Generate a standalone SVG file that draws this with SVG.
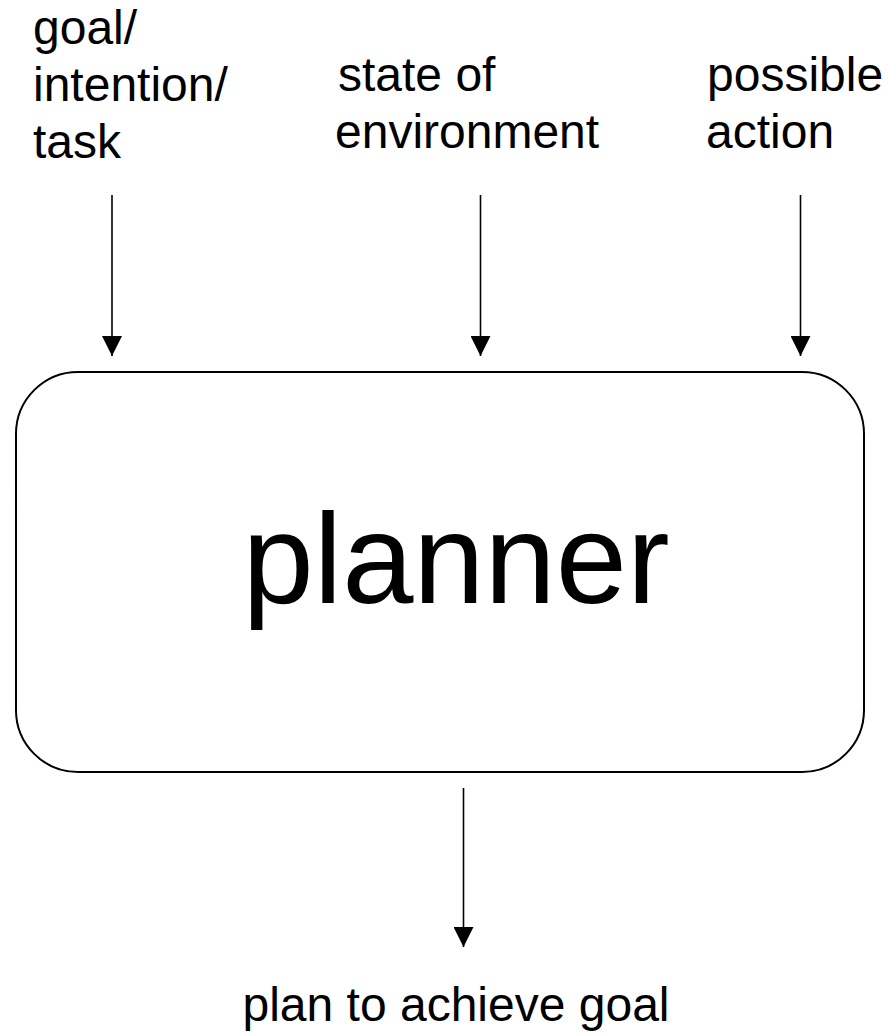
<svg xmlns="http://www.w3.org/2000/svg" width="889" height="1034" viewBox="0 0 889 1034">
<style>
text{font-family:"Liberation Sans",Arial,sans-serif;fill:#000}
.lbl{font-size:48px}
.big{font-size:128px}
.con{stroke:#000;stroke-width:1.6;fill:none}
.box{fill:#fff;stroke:#000;stroke-width:2}
</style>
<defs>
<marker id="ah" viewBox="0 0 20 20" refX="20" refY="10" markerWidth="20" markerHeight="20" markerUnits="userSpaceOnUse" orient="auto">
<path d="M0,0 L20,10 L0,20 Z" fill="#000"/>
</marker>
</defs>
<g id="connectors">
<line class="con" x1="112" y1="195" x2="112" y2="356" marker-end="url(#ah)"/>
<line class="con" x1="480.5" y1="195" x2="480.5" y2="356" marker-end="url(#ah)"/>
<line class="con" x1="800.5" y1="195" x2="800.5" y2="356" marker-end="url(#ah)"/>
<line class="con" x1="463.5" y1="788" x2="463.5" y2="947" marker-end="url(#ah)"/>
</g>
<g id="planner">
<rect class="box" x="16" y="372" width="848" height="400" rx="62" ry="62"/>
<text class="big" x="456" y="603" text-anchor="middle">planner</text>
</g>
<g id="goal">
<text class="lbl" x="33" y="44">goal/</text>
<text class="lbl" x="33" y="101">intention/</text>
<text class="lbl" x="33" y="158">task</text>
</g>
<g id="state">
<text class="lbl" x="338" y="91">state of</text>
<text class="lbl" x="335" y="148">environment</text>
</g>
<g id="action">
<text class="lbl" x="707" y="91">possible</text>
<text class="lbl" x="706" y="148">action</text>
</g>
<g id="plan">
<text class="lbl" x="456" y="1021" text-anchor="middle">plan to achieve goal</text>
</g>
</svg>
